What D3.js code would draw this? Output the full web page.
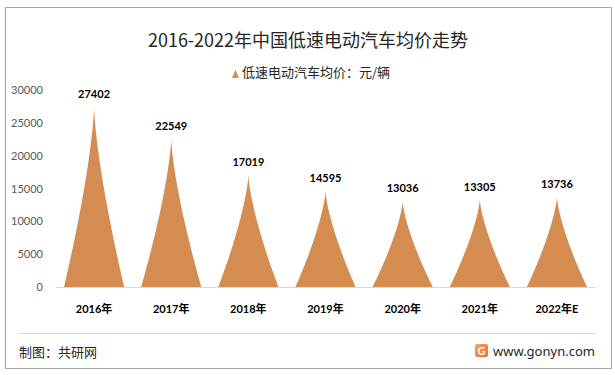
<!DOCTYPE html>
<html>
<head>
<meta charset="utf-8">
<script src="https://cdn.jsdelivr.net/npm/d3@7"></script>
<style>
  html, body { margin: 0; padding: 0; background: #fff; }
  text { font-family: Lato, "Noto Sans CJK SC", sans-serif; }
</style>
</head>
<body>
<svg id="chart"></svg>
<script>
const years = ["2016年", "2017年", "2018年", "2019年", "2020年", "2021年", "2022年E"];
const prices = [27402, 22549, 17019, 14595, 13036, 13305, 13736];
const yTicks = [0, 5000, 10000, 15000, 20000, 25000, 30000];

const width = 615, height = 375;
const svg = d3.select("#chart").attr("width", width).attr("height", height);
const fill = "#d48c50";

// outer frame
svg.append("rect")
   .attr("x", 5.5).attr("y", 7.5)
   .attr("width", 606).attr("height", 361)
   .attr("fill", "#fff").attr("stroke", "#a6a6a6");

// title
svg.append("text")
   .attr("x", 308).attr("y", 47)
   .attr("text-anchor", "middle")
   .attr("font-size", 18)
   .attr("fill", "#262626")
   .style("font-family", "'Noto Sans CJK SC', sans-serif")
   .text("2016-2022年中国低速电动汽车均价走势");

// legend
const x = d3.scaleBand().domain(years).range([55.5, 595.5]);
const y = d3.scaleLinear().domain([0, 30000]).range([287, 90]);

svg.append("path")
   .attr("d", "M232,78 L235.5,70 L239,78 Z")
   .attr("fill", fill);
svg.append("text")
   .attr("x", 242).attr("y", 77)
   .attr("font-size", 13)
   .attr("fill", "#262626")
   .style("font-family", "'Noto Sans CJK SC', sans-serif")
   .text("低速电动汽车均价：元/辆");

// y axis labels
svg.append("g")
   .selectAll("text")
   .data(yTicks)
   .join("text")
   .attr("x", 43)
   .attr("y", d => y(d) + 4)
   .attr("text-anchor", "end")
   .attr("font-size", 11)
   .attr("fill", "#595959")
   .text(d => d);

// baseline
svg.append("line")
   .attr("x1", x.range()[0]).attr("x2", x.range()[1])
   .attr("y1", y(0) + 0.5).attr("y2", y(0) + 0.5)
   .attr("stroke", "#d9d9d9");

// spikes
const steps = d3.range(0, 1.0001, 0.02);
const spike = d3.line();
svg.append("g")
   .selectAll("path")
   .data(years.map((yr, i) => ({ yr, v: prices[i] })))
   .join("path")
   .attr("fill", fill)
   .attr("d", d => {
     const cx = x(d.yr) + x.bandwidth() / 2;
     const hw = x.bandwidth() * 0.39;
     const left = steps.map(f => [cx - hw * Math.pow(1 - f, 1.4), y(d.v * f)]);
     const right = steps.slice().reverse().map(f => [cx + hw * Math.pow(1 - f, 1.4), y(d.v * f)]);
     return spike(left.concat(right)) + "Z";
   });

// value labels
svg.append("g")
   .selectAll("text")
   .data(prices)
   .join("text")
   .attr("x", (d, i) => x(years[i]) + x.bandwidth() / 2)
   .attr("y", d => y(d) - 9)
   .attr("text-anchor", "middle")
   .attr("font-size", 11)
   .attr("font-weight", "bold")
   .attr("fill", "#000")
   .text(d => d);

// x labels
svg.append("g")
   .selectAll("text")
   .data(years)
   .join("text")
   .attr("x", d => x(d) + x.bandwidth() / 2)
   .attr("y", 313)
   .attr("text-anchor", "middle")
   .attr("font-size", 11)
   .attr("font-weight", "bold")
   .attr("fill", "#000")
   .text(d => d);

// footer separator
svg.append("line")
   .attr("x1", 18).attr("x2", 596)
   .attr("y1", 333.5).attr("y2", 333.5)
   .attr("stroke", "#d9d9d9");

svg.append("text")
   .attr("x", 19).attr("y", 357)
   .attr("font-size", 13)
   .attr("fill", "#262626")
   .style("font-family", "'Noto Sans CJK SC', sans-serif")
   .text("制图：共研网");

// logo
const grad = svg.append("defs").append("linearGradient")
   .attr("id", "lg").attr("x1", 0).attr("y1", 0).attr("x2", 1).attr("y2", 1);
grad.append("stop").attr("offset", 0).attr("stop-color", "#f7a35a");
grad.append("stop").attr("offset", 1).attr("stop-color", "#ee6b3b");
svg.append("rect")
   .attr("x", 475).attr("y", 344).attr("width", 13).attr("height", 13)
   .attr("rx", 2).attr("fill", "url(#lg)");
svg.append("text")
   .attr("x", 481.5).attr("y", 355)
   .attr("text-anchor", "middle")
   .attr("font-size", 11).attr("font-weight", "bold")
   .attr("fill", "#fff")
   .text("G");
svg.append("text")
   .attr("x", 493).attr("y", 356)
   .attr("font-size", 13)
   .attr("fill", "#262626")
   .style("font-family", "'Noto Sans', sans-serif")
   .text("www.gonyn.com");
</script>
</body>
</html>
